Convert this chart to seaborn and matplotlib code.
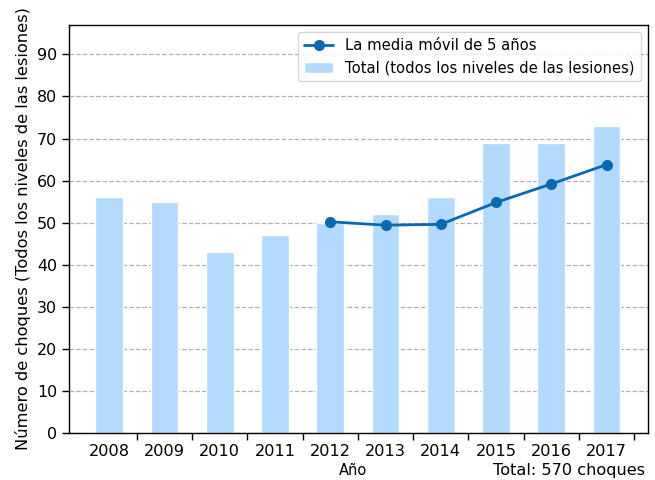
import matplotlib
matplotlib.use("Agg")
import matplotlib.pyplot as plt
import pandas as pd
import seaborn as sns
from matplotlib.lines import Line2D
from matplotlib.patches import Patch

years = [2008, 2009, 2010, 2011, 2012, 2013, 2014, 2015, 2016, 2017]
totals = [56, 55, 43, 47, 50, 52, 56, 69, 69, 73]
ma_years = [2012, 2013, 2014, 2015, 2016, 2017]
ma_values = [50.2, 49.4, 49.6, 54.8, 59.2, 63.8]

BAR_COLOR = "#b3d9ff"
LINE_COLOR = "#0869b0"

bars = pd.DataFrame({"year": years, "total": totals})
ma = pd.DataFrame({"year": ma_years, "value": ma_values})

sns.set_style("white", {"text.color": "black", "axes.labelcolor": "black",
                        "xtick.color": "black", "ytick.color": "black"})
plt.rcParams["font.family"] = ["DejaVu Sans"]

fig = plt.figure(figsize=(6.55, 4.8), dpi=100)
ax = fig.add_axes([0.1053, 0.098, 0.8840, 0.850])

sns.barplot(data=bars, x="year", y="total", native_scale=True, width=0.5,
            color=BAR_COLOR, saturation=1, ax=ax, zorder=2)
sns.lineplot(data=ma, x="year", y="value", color=LINE_COLOR, marker="o",
             markersize=8, linewidth=2, markeredgewidth=0, ax=ax, zorder=3)

ax.set_xlim(years[0] - 0.73, years[-1] + 0.75)
ax.set_ylim(0, 97)
ax.set_yticks(range(0, 100, 10))
ax.set_xticks([y + 0.5 for y in years])
ax.set_xticklabels([])
ax.set_xticks(years, minor=True)
ax.set_xticklabels([str(y) for y in years], minor=True)
ax.tick_params(axis="x", which="minor", length=0, labelsize=11.6, pad=8)
ax.tick_params(axis="x", which="major", length=5, width=1, direction="out", bottom=True)
ax.tick_params(axis="y", length=5, width=1, direction="out", labelsize=11.4, left=True)
ax.set_axisbelow(True)
ax.yaxis.grid(True, linestyle="--", color="#b0b0b0", linewidth=0.9)
ax.xaxis.grid(False)
for s in ax.spines.values():
    s.set_color("black")
    s.set_linewidth(1)

ax.set_xlabel("Año", fontsize=10.5)
ax.xaxis.set_label_coords(0.49, -0.074)
ax.set_ylabel("Número de choques (Todos los niveles de las lesiones)", fontsize=11.7)

handles = [
    Line2D([], [], color=LINE_COLOR, marker="o", markersize=8, linewidth=2, markeredgewidth=0),
    Patch(facecolor=BAR_COLOR),
]
labels = ["La media móvil de 5 años", "Total (todos los niveles de las lesiones)"]
ax.legend(handles, labels, loc="upper right", fontsize=10.6, frameon=True)

fig.text(0.985, 0.019, "Total: 570 choques", ha="right", va="center", fontsize=11.6)

plt.savefig("out.png", dpi=100)
plt.close()
